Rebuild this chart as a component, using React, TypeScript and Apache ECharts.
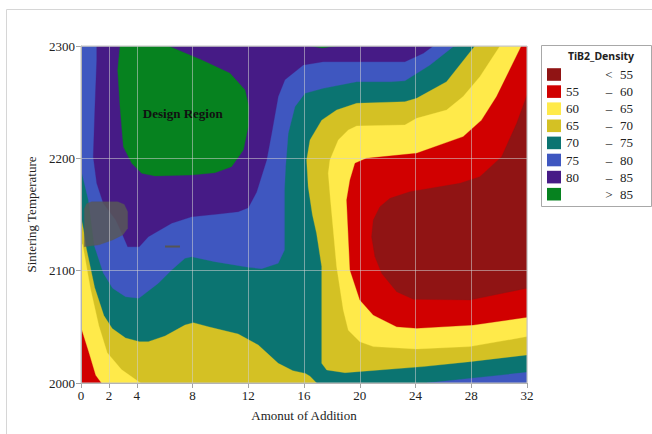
import React, { useEffect, useRef } from "react";
import * as echarts from "echarts";

// ---- axes ----
const xTicks = [0, 2, 4, 8, 12, 16, 20, 24, 28, 32];
const yTicks = [2000, 2100, 2200, 2300];
const xRange = [0, 32];
const yRange = [2000, 2300];

// ---- legend (contour levels of TiB2_Density) ----
const levelColors = ["#901414", "#D10000", "#FFEA4A", "#D4C124", "#0B7471", "#3F57C0", "#461B86", "#06821F"];
const levelFrom = ["", "55", "60", "65", "70", "75", "80", ""];
const levelSep = ["<", "\u2013", "\u2013", "\u2013", "\u2013", "\u2013", "\u2013", ">"];
const levelTo = ["55", "60", "65", "70", "75", "80", "85", "85"];

// ---- contour regions, [Amount of Addition, Sintering Temperature] ----
const band70to75All = [[0, 2000], [32, 2000], [32, 2300], [0, 2300]];

const rightBelow70 = [
  [28.26, 2300], [26.23, 2268.2], [24.08, 2253.4], [23.24, 2250.4], [19.78, 2249], [18.34, 2243],
  [17.27, 2234], [16.43, 2216.3], [16.19, 2198.5], [16.3, 2174.8], [16.6, 2150], [16.9, 2133.3],
  [17.27, 2103.6], [17.27, 2017.5], [17.63, 2011.6], [18.94, 2009.2], [24.56, 2014.6], [27.9, 2019],
  [32, 2025], [32, 2300],
];
const rightBelow65 = [
  [30.06, 2300], [28.62, 2272.7], [27.42, 2255], [26.23, 2243], [24.08, 2235.6], [23.24, 2229.7],
  [19.78, 2228.8], [19.18, 2225.2], [18.46, 2216.3], [17.86, 2198.5], [17.74, 2186.7], [17.9, 2163],
  [18.34, 2103.6], [18.82, 2065], [19.18, 2047], [20.01, 2036.8], [20.97, 2032.4], [24.08, 2030.3],
  [27.9, 2032.4], [32, 2041.3], [32, 2300],
];
const rightBelow60 = [
  [31.6, 2300], [29.82, 2255], [28.74, 2234], [27.42, 2219.3], [25.75, 2211.9], [24.08, 2204.5],
  [20.49, 2200], [19.66, 2195.6], [19.3, 2180.7], [19.06, 2163], [19.3, 2100.6], [20.01, 2073.9],
  [20.97, 2060.5], [22.65, 2050.1], [24.08, 2048.7], [28.14, 2051.6], [32, 2058.5], [32, 2300],
];
const rightBelow55 = [
  [32, 2256.4], [31.26, 2231.2], [30.18, 2201.5], [28.62, 2183.7], [27.19, 2177.8], [23.6, 2170.3],
  [22.17, 2164.4], [21.45, 2157], [20.97, 2145], [20.85, 2130.2], [21.09, 2112.4], [21.57, 2097.6],
  [22.65, 2081.3], [23.84, 2074.5], [27.9, 2073.9], [32, 2084.3],
];
const leftBelow70 = [
  [0, 2148], [0.2, 2135], [0.38, 2120], [0.98, 2085], [1.64, 2060], [2.24, 2048.5], [3.2, 2040],
  [4.2, 2036.8], [4.83, 2036.8], [6.03, 2041.8], [7.46, 2051.6], [8.06, 2053.7], [9.13, 2050.1],
  [11.28, 2043.6], [12.72, 2033.8], [14.15, 2017.5], [15.2, 2011], [16.1, 2008.5], [16.43, 2006],
  [16.9, 2000], [0, 2000],
];
const leftBelow65 = [
  [0, 2125], [0.12, 2123], [0.68, 2084], [1.28, 2051], [1.88, 2027], [2.9, 2012], [4.27, 2000], [0, 2000],
];
const leftBelow60 = [[0, 2049], [0.56, 2027], [1.04, 2007], [1.45, 2000], [0, 2000]];
const cornerAbove75 = [[24.8, 2000], [32, 2009.5], [32, 2000]];
const above75 = [
  [0, 2300], [27, 2300], [26.7, 2299.4], [25.04, 2283], [23.24, 2269], [22.17, 2268.2], [19.78, 2268.2],
  [17.38, 2262.3], [16.07, 2257.9], [15.35, 2246], [14.87, 2222.3], [14.68, 2192.6], [14.6, 2171.8],
  [14.6, 2118.4], [14.15, 2106.5], [12.96, 2101.8], [12.0, 2103], [9.6, 2108], [7.94, 2112.4],
  [7.46, 2111], [6.5, 2100.6], [5.55, 2088.8], [4.15, 2075.4], [3.2, 2076.8], [2.27, 2084.3],
  [1.6, 2098], [0.96, 2122], [0.53, 2163], [0, 2190],
];
const above80 = [
  [1.13, 2300], [25.27, 2300], [24.56, 2293.5], [23.24, 2286], [17.38, 2286], [15.95, 2283],
  [14.63, 2270], [14.15, 2255], [13.68, 2222.3], [13.32, 2198.5], [12.6, 2170], [12.0, 2156],
  [11.28, 2152.5], [9.85, 2150.4], [7.94, 2148], [6.5, 2142.2], [4.83, 2130.2], [4.18, 2121.3],
  [3.35, 2121.3], [2.99, 2131.8], [2.5, 2145], [1.6, 2160], [1.13, 2177.8], [0.88, 2201.4],
  [1.0, 2246], [1.13, 2287.5],
];
const above85 = [
  [2.8, 2300], [2.63, 2278.6], [2.8, 2246], [3.04, 2210.4], [3.64, 2195.6], [4.35, 2186.7],
  [5.31, 2184.3], [7.94, 2185.2], [9.61, 2187.2], [10.8, 2192.6], [11.65, 2207.4], [12.0, 2228.2],
  [12.05, 2246], [11.77, 2260.8], [10.69, 2275.7], [8.66, 2287.5], [6.26, 2300],
];
const above85Top = [[16.5, 2300], [17.3, 2298.3], [18.3, 2300]];

// shaded region and its label
const shadedRegion = [
  [0.24, 2121.3], [1.31, 2123], [2.27, 2127.3], [2.99, 2131.8], [3.35, 2137.7], [3.35, 2152.5],
  [3.1, 2159], [2.63, 2161.4], [0.75, 2161.4], [0.4, 2159.5], [0.24, 2155],
];
const dashMark = [[6.03, 2121.5], [7.1, 2121.5]];
const designLabel = { text: "Design Region", at: [7.3, 2240] };

const layers: { pts: number[][]; color: string }[] = [
  { pts: band70to75All, color: levelColors[4] },
  { pts: rightBelow70, color: levelColors[3] },
  { pts: rightBelow65, color: levelColors[2] },
  { pts: rightBelow60, color: levelColors[1] },
  { pts: rightBelow55, color: levelColors[0] },
  { pts: leftBelow70, color: levelColors[3] },
  { pts: leftBelow65, color: levelColors[2] },
  { pts: leftBelow60, color: levelColors[1] },
  { pts: cornerAbove75, color: levelColors[5] },
  { pts: above75, color: levelColors[5] },
  { pts: above80, color: levelColors[6] },
  { pts: above85, color: levelColors[7] },
  { pts: above85Top, color: levelColors[7] },
  { pts: shadedRegion, color: "rgba(88,88,88,0.84)" },
];

const SERIF = '"Liberation Serif", "Times New Roman", serif';
const SANS = '"Noto Sans", "Open Sans", sans-serif';

export default function App() {
  const ref = useRef<HTMLDivElement>(null);
  useEffect(() => {
    if (!ref.current) return;
    const chart = echarts.init(ref.current, undefined, { renderer: "svg" });

    const series: any[] = layers.map((l) => ({
      type: "custom",
      coordinateSystem: "cartesian2d",
      clip: true,
      silent: true,
      data: [[16, 2150]],
      renderItem: (_p: any, api: any) => ({
        type: "polygon",
        shape: { points: l.pts.map((p) => api.coord(p)) },
        style: { fill: l.color, stroke: l.color, lineWidth: 0.3 },
      }),
    }));
    series.push({
      type: "custom",
      coordinateSystem: "cartesian2d",
      silent: true,
      data: [[16, 2150]],
      renderItem: (_p: any, api: any) => {
        const a = api.coord(dashMark[0]);
        const b = api.coord(dashMark[1]);
        const c = api.coord(designLabel.at);
        return {
          type: "group",
          children: [
            { type: "line", shape: { x1: a[0], y1: a[1], x2: b[0], y2: b[1] }, style: { stroke: "#555", lineWidth: 2 } },
            {
              type: "text",
              style: {
                text: designLabel.text, x: c[0], y: c[1], fill: "#111",
                font: `bold 13px ${SERIF}`, align: "center", verticalAlign: "middle",
              },
            },
          ],
        };
      },
    });

    const graphic: any[] = [
      { type: "line", shape: { x1: 6.5, y1: 9.5, x2: 6.5, y2: 440 }, style: { stroke: "#d6d6d6", lineWidth: 1 } },
      { type: "line", shape: { x1: 6.5, y1: 9.5, x2: 660, y2: 9.5 }, style: { stroke: "#d6d6d6", lineWidth: 1 } },
      { type: "rect", shape: { x: 81, y: 46, width: 446, height: 337 }, style: { fill: "none", stroke: "#c4c4c4", lineWidth: 1 }, z: 100 },
      { type: "rect", shape: { x: 541.5, y: 45.5, width: 110, height: 161 }, style: { fill: "#fff", stroke: "#a8a8a8", lineWidth: 1 } },
      { type: "text", x: 601, y: 56, style: { text: "TiB2_Density", font: `bold 10.5px ${SANS}`, fill: "#222", align: "center", verticalAlign: "middle" } },
    ];
    levelColors.forEach((c, i) => {
      const yc = 74.5 + 17.1 * i;
      graphic.push({ type: "rect", shape: { x: 547, y: yc - 6.3, width: 14, height: 12.6 }, style: { fill: c } });
      if (levelFrom[i]) graphic.push({ type: "text", x: 566, y: yc, style: { text: levelFrom[i], font: `13px ${SERIF}`, fill: "#222", verticalAlign: "middle" } });
      graphic.push({ type: "text", x: 609, y: yc, style: { text: levelSep[i], font: `13px ${SERIF}`, fill: "#222", align: "center", verticalAlign: "middle" } });
      graphic.push({ type: "text", x: 620, y: yc, style: { text: levelTo[i], font: `13px ${SERIF}`, fill: "#222", verticalAlign: "middle" } });
    });

    const axisCommon = {
      type: "value",
      z: 5,
      nameLocation: "middle",
      nameTextStyle: { fontFamily: SERIF, fontSize: 13, color: "#222" },
      axisLine: { show: true, lineStyle: { color: "#a4a4a4", width: 1 } },
      axisTick: { show: true, length: 5, lineStyle: { color: "#a4a4a4" } },
      axisLabel: {
        fontFamily: SERIF, fontSize: 13, color: "#222", margin: 6, showMinLabel: true, showMaxLabel: true,
        formatter: (v: number) => String(v),
      },
      splitLine: { show: true, lineStyle: { color: "rgba(210,210,210,0.55)", width: 1 } },
    };

    chart.setOption({
      animation: false,
      grid: { left: 81, top: 46, width: 446, height: 337, containLabel: false },
      xAxis: {
        ...axisCommon,
        min: xRange[0], max: xRange[1],
        name: "Amonut of Addition", nameGap: 26,
        axisTick: { ...axisCommon.axisTick, customValues: xTicks },
        axisLabel: { ...axisCommon.axisLabel, customValues: xTicks },
      },
      yAxis: {
        ...axisCommon,
        min: yRange[0], max: yRange[1], interval: 100,
        name: "Sintering Temperature", nameGap: 42,
        axisTick: { ...axisCommon.axisTick, customValues: yTicks },
        axisLabel: { ...axisCommon.axisLabel, customValues: yTicks },
      },
      series,
      graphic,
    });
    return () => chart.dispose();
  }, []);
  return <div ref={ref} style={{ position: "fixed", left: 0, top: 0, width: 652, height: 434, background: "#fff" }} />;
}
